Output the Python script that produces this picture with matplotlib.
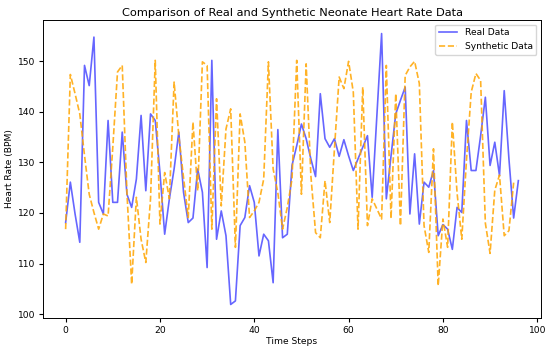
import matplotlib
matplotlib.use("Agg")
import matplotlib.pyplot as plt

real_data = [
    118.1, 126.1, 119.8, 114.2, 149.2, 145.2, 154.8, 122.1, 119.8, 138.3,
    122.1, 122.1, 136.0, 123.7, 121.1, 126.7, 139.3, 124.4, 139.6, 138.3,
    128.0, 115.8, 122.8, 128.7, 136.0, 124.1, 118.1, 119.0, 128.7, 124.1,
    109.2, 150.2, 114.8, 120.4, 115.5, 101.9, 102.6, 117.5, 119.1, 125.4,
    122.1, 111.5, 115.8, 114.5, 106.2, 136.5, 115.1, 115.8, 129.4, 133.3,
    137.6, 134.7, 130.7, 127.2, 143.6, 134.7, 133.0, 134.7, 131.2, 134.5,
    131.3, 128.4, 130.7, 133.0, 135.3, 123.1, 139.3, 155.5, 122.8, 131.3,
    139.6, 142.3, 144.9, 119.8, 131.7, 117.8, 126.1, 125.1, 128.4, 115.5,
    117.7, 116.8, 112.8, 121.1, 120.1, 138.3, 128.4, 128.4, 135.3, 142.9,
    129.4, 134.0, 127.4, 144.2, 130.7, 119.0, 126.4,
]

synthetic_data = [
    116.8, 147.4, 143.6, 139.6, 131.4, 123.7, 120.1, 116.8, 119.8, 119.4,
    133.0, 147.9, 149.2, 124.0, 105.9, 123.1, 114.8, 110.2, 122.8, 150.2,
    117.8, 128.0, 122.8, 145.9, 135.3, 127.0, 119.1, 138.0, 124.4, 149.9,
    149.2, 116.8, 142.6, 121.4, 136.6, 140.6, 113.2, 139.6, 134.0, 119.1,
    120.4, 122.1, 126.7, 149.9, 128.7, 124.0, 116.8, 121.1, 126.7, 150.2,
    123.7, 149.5, 127.4, 116.1, 115.1, 126.4, 118.1, 132.7, 146.9, 144.6,
    150.0, 143.9, 116.8, 144.9, 117.5, 122.8, 120.8, 118.8, 149.2, 118.9,
    143.6, 117.5, 147.2, 148.9, 150.0, 145.6, 117.5, 112.2, 132.7, 105.6,
    118.8, 113.2, 138.0, 124.0, 114.8, 130.5, 143.9, 147.6, 146.2, 118.0,
    112.0, 124.5, 127.5, 115.5, 116.5, 126.0,
]

title = "Comparison of Real and Synthetic Neonate Heart Rate Data"
xlabel = "Time Steps"
ylabel = "Heart Rate (BPM)"

fig = plt.figure(figsize=(5.5, 3.49), dpi=100)
ax = fig.add_axes([43/550, 1-318/349, (541-43)/550, (318-20)/349])

ax.plot(range(len(real_data)), real_data, color="blue", alpha=0.6, lw=1.2, label="Real Data")
ax.plot(range(len(synthetic_data)), synthetic_data, color="orange", alpha=0.85, lw=1.2,
        linestyle="--", label="Synthetic Data")

ax.set_title(title, fontsize=8.2, pad=3)
ax.set_xlabel(xlabel, fontsize=6.6, labelpad=2)
ax.set_ylabel(ylabel, fontsize=6.6, labelpad=3)
ax.tick_params(labelsize=6.6, length=3, pad=2.5)
for s in ax.spines.values():
    s.set_linewidth(0.7)
ax.legend(fontsize=6.6, loc="upper right")

fig.savefig("out.png", dpi=100)
